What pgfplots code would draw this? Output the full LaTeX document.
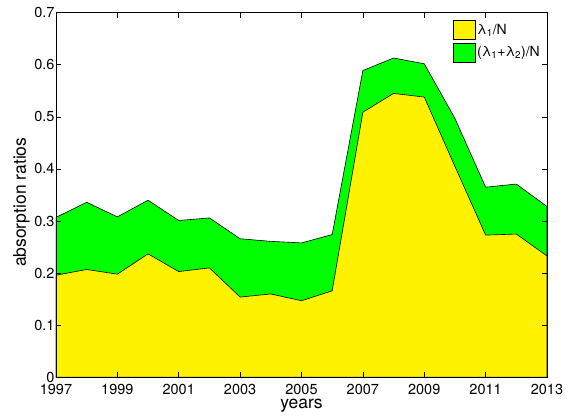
\documentclass[border=0pt]{standalone}
\usepackage{pgfplots}
\pgfplotsset{compat=1.18}
\usepackage{fontspec}
\setmainfont{TeX Gyre Heros}
\setsansfont{TeX Gyre Heros}
\begin{document}
\begin{tikzpicture}
\useasboundingbox (-56pt,-39.7pt) rectangle (526pt,377.3pt);
\begin{axis}[
  at={(0,0)}, anchor=south west,
  scale only axis, width=491pt, height=364.6pt,
  xmin=1997, xmax=2013, ymin=0, ymax=0.7,
  xtick={1997,1999,...,2013},
  ytick={0,0.1,0.2,0.3,0.4,0.5,0.6,0.7},
  yticklabels={0,0.1,0.2,0.3,0.4,0.5,0.6,0.7},
  /pgf/number format/assume math mode=true,
  /pgf/number format/set thousands separator={},
  tick align=inside, tick pos=both,
  major tick length=5pt,
  axis line style={line width=0.7pt},
  tick style={line width=0.6pt, black},
  axis on top=true,
  tick label style={font=\fontsize{14.5}{17}\selectfont},
  label style={font=\fontsize{17.5}{20}\selectfont},
  xticklabel style={anchor=base, yshift=-17.5pt},
  yticklabel style={xshift=2pt},
  xlabel={years}, ylabel={absorption ratios},
  xlabel style={at={(axis description cs:0.5,0)}, anchor=base, yshift=-31.5pt},
  ylabel style={at={(axis description cs:-0.0703,0.48)}, anchor=center},
  legend style={at={(1,1)}, anchor=north east, draw=none, fill=none,
    font=\fontsize{14}{16}\selectfont, legend cell align=left,
    row sep=3pt, xshift=-2pt, yshift=-5pt},
  legend image code/.code={\draw[#1] (0pt,-9.5pt) rectangle (22pt,9.5pt);},
]
\addplot[fill=green, draw=black, line width=0.6pt, forget plot] coordinates {
(1997,0.307) (1998,0.336) (1999,0.308) (2000,0.340) (2001,0.301) (2002,0.306)
(2003,0.266) (2004,0.261) (2005,0.258) (2006,0.274) (2007,0.589) (2008,0.613)
(2009,0.602) (2010,0.497) (2011,0.365) (2012,0.371) (2013,0.328)} \closedcycle;
\addplot[fill=yellow, draw=black, line width=0.6pt, forget plot] coordinates {
(1997,0.196) (1998,0.207) (1999,0.198) (2000,0.237) (2001,0.203) (2002,0.210)
(2003,0.154) (2004,0.160) (2005,0.147) (2006,0.166) (2007,0.509) (2008,0.545)
(2009,0.538) (2010,0.405) (2011,0.273) (2012,0.275) (2013,0.233)} \closedcycle;
\addlegendimage{fill=yellow, draw=black, line width=0.6pt}
\addlegendentry{λ\textsubscript{1}/N}
\addlegendimage{fill=green, draw=black, line width=0.6pt}
\addlegendentry{(λ\textsubscript{1}+λ\textsubscript{2})/N}
\end{axis}
\end{tikzpicture}
\end{document}
